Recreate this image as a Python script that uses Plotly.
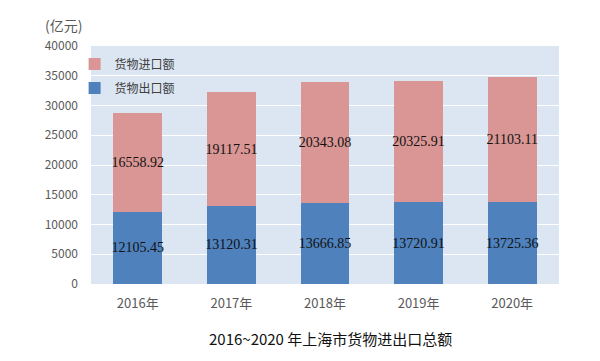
import plotly.graph_objects as go

years = ["2016年", "2017年", "2018年", "2019年", "2020年"]
exports = [12105.45, 13120.31, 13666.85, 13720.91, 13725.36]
imports = [16558.92, 19117.51, 20343.08, 20325.91, 21103.11]
export_name = "货物出口额"
import_name = "货物进口额"
title_text = "2016~2020 年上海市货物进出口总额"
unit_text = "(亿元)"

label_font = dict(family="Liberation Serif", size=14, color="#111111")

fig = go.Figure()
fig.add_trace(go.Bar(
    x=years, y=exports, name=export_name, legendgroup="e", legendrank=2,
    marker=dict(color="#4f81bd", line=dict(width=0)),
    text=[f"{v:.2f}" for v in exports], textposition="inside", textangle=0,
    insidetextanchor="middle", constraintext="none",
    textfont=label_font,
))
fig.add_trace(go.Bar(
    x=years, y=imports, name=import_name, legendgroup="i", legendrank=1,
    marker=dict(color="#d99694", line=dict(width=0)),
    text=[f"{v:.2f}" for v in imports], textposition="inside", textangle=0,
    insidetextanchor="middle", constraintext="none",
    textfont=label_font,
))

fig.update_layout(
    barmode="stack",
    bargap=0.48,
    width=600, height=361,
    margin=dict(l=83, r=49, t=38, b=85),
    paper_bgcolor="white",
    plot_bgcolor="#dce6f2",
    font=dict(family="Noto Sans CJK SC", size=12, color="#595959"),
    showlegend=True,
    legend=dict(
        x=-0.035, y=0.985, xanchor="left", yanchor="top",
        traceorder="grouped", bgcolor="rgba(0,0,0,0)",
        font=dict(size=12, color="#404040"),
        itemwidth=30, tracegroupgap=5,
    ),
    xaxis=dict(showgrid=False, ticks="", showline=False, ticklabelstandoff=10,
               tickfont=dict(size=13, color="#595959")),
    yaxis=dict(range=[0, 40000], dtick=5000, tickformat="d",
               gridcolor="white", gridwidth=1.2,
               zeroline=False, showline=False, ticks="", ticklabelstandoff=12,
               tickfont=dict(size=12, color="#595959")),
    annotations=[
        dict(text=unit_text, xref="paper", yref="paper", x=-0.058, y=1.088,
             xanchor="center", yanchor="middle", showarrow=False,
             font=dict(size=14, color="#595959")),
        dict(text=title_text, xref="paper", yref="paper", x=0.511, y=-0.227,
             xanchor="center", yanchor="middle", showarrow=False,
             font=dict(size=15, color="#111111")),
    ],
)

fig.write_html("out.html")
